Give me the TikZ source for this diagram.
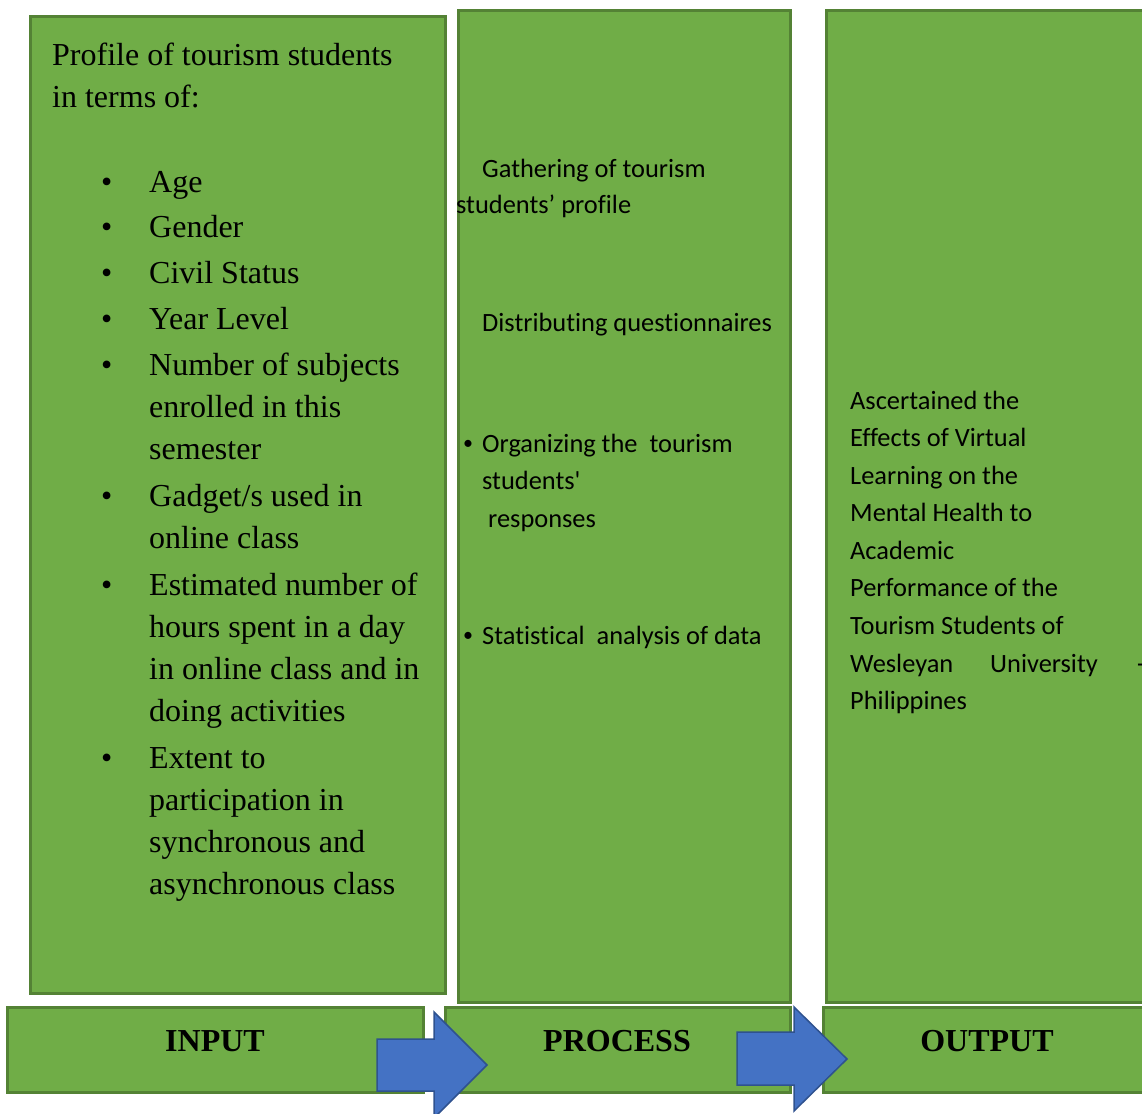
\documentclass[tikz,border=0pt]{standalone}
\usepackage{fontspec}
\setmainfont{Liberation Serif}
\newfontfamily\calib[Ligatures=NoCommon]{Carlito}
\definecolor{boxfill}{HTML}{70AD47}
\definecolor{boxline}{HTML}{548235}
\definecolor{arrfill}{HTML}{4472C4}
\definecolor{arrline}{HTML}{2F528F}
\begin{document}
\begin{tikzpicture}[x=1pt,y=-1pt,
  panel/.style={fill=boxfill,draw=boxline,line width=3pt},
  label/.style={fill=boxfill,draw=boxline,line width=3pt},
  blockarrow/.style={fill=arrfill,draw=arrline,line width=1.5pt,line join=miter},
  sertext/.style={anchor=base west,inner sep=0pt,align=left,font=\fontsize{32}{42}\selectfont},
  caltext/.style={anchor=base west,inner sep=0pt,align=left,font=\calib\fontsize{26.4}{37.5}\selectfont},
  headtext/.style={anchor=base,inner sep=0pt,font=\bfseries\fontsize{32}{38}\selectfont},
  bul/.style={anchor=base west,inner sep=0pt,font=\fontsize{32}{42}\selectfont}]
\useasboundingbox (0,0) rectangle (1142,1113);

% three columns
\draw[panel] (30,17) rectangle (445,993);
\draw[panel] (458,11) rectangle (790,1002);
\draw[panel] (826,11) rectangle (1152,1002);

% heading bars
\draw[label] (7,1007) rectangle (423,1092);
\draw[label] (445,1007) rectangle (790,1092);
\draw[label] (823,1007) rectangle (1152,1092);
\node[headtext] (hin) at (215,1051) {INPUT};
\node[headtext] (hproc) at (617,1051) {PROCESS};
\node[headtext] (hout) at (987,1051) {OUTPUT};

% block arrows
\draw[blockarrow] (377,1039) -- (434,1039) -- (434,1012) -- (487,1065)
  -- (434,1118) -- (434,1091) -- (377,1091) -- cycle;
\draw[blockarrow] (737,1032) -- (794,1032) -- (794,1007) -- (847,1059)
  -- (794,1111) -- (794,1085) -- (737,1085) -- cycle;

% input column (multi-line nodes sit on the baseline of their last line)
\node[sertext] (prof) at (52,108) {Profile of tourism students\\in terms of:};
\foreach \nm/\yy/\ylast/\txt in {
  age/192/192/{Age},
  gen/237/237/{Gender},
  civ/283/283/{Civil Status},
  yr/329/329/{Year Level},
  subj/375/459/{Number of subjects\\enrolled in this\\semester},
  gad/506/548/{Gadget/s used in\\online class},
  hrs/595/721/{Estimated number of\\hours spent in a day\\in online class and in\\doing activities},
  ext/768/894/{Extent to\\participation in\\synchronous and\\asynchronous class}}{
  \node[bul] (b\nm) at (101,\yy) {•};
  \node[sertext] (\nm) at (149,\ylast) {\txt};
}

% process column
\node[caltext] (p1) at (482,177) {Gathering of tourism};
\node[caltext] (p1b) at (456,213) {students’ profile};
\node[caltext] (p2) at (482,331) {Distributing questionnaires};
\node[caltext] (p3b) at (463,449) {\fontsize{20}{20}\selectfont•};
\node[caltext] (p3) at (482,527) {Organizing the\ \ tourism\\students'\\\ responses};
\node[caltext] (p4b) at (463,641) {\fontsize{20}{20}\selectfont•};
\node[caltext] (p4) at (482,644) {Statistical\ \ analysis of data};

% output column
\node[caltext] (o1) at (850,634) {Ascertained the\\Effects of Virtual\\Learning on the\\Mental Health to\\Academic\\Performance of the\\Tourism Students of};
\node[caltext] (o2) at (850,672) {Wesleyan};
\node[caltext] (o3) at (990,672) {University};
\node[caltext] (o4) at (1137,672) {-};
\node[caltext] (o5) at (850,709) {Philippines};
\end{tikzpicture}
\end{document}
